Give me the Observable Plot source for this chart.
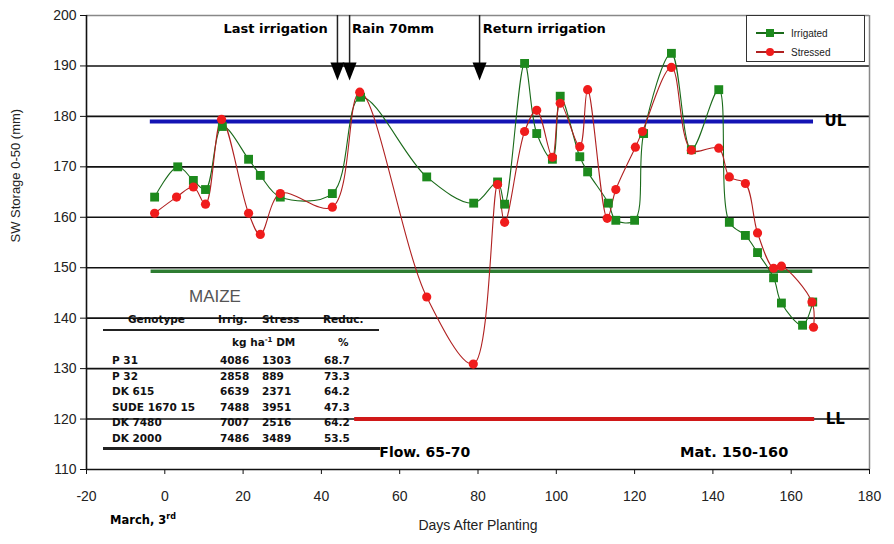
<!DOCTYPE html>
<html>
<head>
<meta charset="utf-8">
<script src="https://cdn.jsdelivr.net/npm/d3@7"></script>
<script src="https://cdn.jsdelivr.net/npm/@observablehq/plot@0.6"></script>
<style>
  body { margin: 0; background: white; }
  #wrap { position: relative; width: 894px; height: 544px; overflow: hidden; font-family: "Liberation Sans", Arial, sans-serif; }
  #wrap svg.plot { position: absolute; left: 0; top: 0; }
  .ov { position: absolute; white-space: nowrap; line-height: 13px; }
  .tb { font-family: "DejaVu Sans", sans-serif; font-weight: bold; font-size: 10.5px; color: #111; }
</style>
</head>
<body>
<div id="wrap"></div>
<script>
// ---------- data ----------
const irrDays = [-2.6, 3.3, 7.3, 10.4, 14.7, 21.4, 24.4, 29.5, 42.8, 50, 66.9, 78.9, 85, 86.8, 91.9, 95, 99, 101, 106, 108, 113.3, 115.2, 120, 122.3, 129.4, 134.5, 141.5, 144.2, 148.3, 151.4, 155.5, 157.5, 162.9, 165.5];
const irrSW   = [164, 170, 167.3, 165.5, 178, 171.5, 168.3, 164, 164.7, 183.8, 168, 162.8, 167, 162.6, 190.5, 176.6, 171.5, 184, 172, 169, 162.8, 159.4, 159.4, 176.6, 192.5, 173.4, 185.3, 159, 156.4, 153, 148, 143, 138.6, 143.2];
const strDays = [-2.6, 3, 7.3, 10.4, 14.5, 21.4, 24.4, 29.5, 42.8, 49.8, 66.9, 78.8, 85, 86.8, 91.9, 95, 99, 101, 106, 108, 113, 115.2, 120.2, 122, 129.4, 134.5, 141.5, 144.2, 148.3, 151.4, 155.5, 157.5, 165.3, 165.7];
const strSW   = [160.8, 164, 166, 162.6, 179.4, 160.8, 156.6, 164.7, 162, 184.8, 144.2, 130.9, 166.5, 159, 177, 181.2, 171.9, 182.6, 174, 185.3, 159.8, 165.5, 173.9, 177, 189.7, 173.3, 173.7, 168, 166.7, 156.9, 149.9, 150.3, 143.2, 138.2];

const xTicks = [-20, 0, 20, 40, 60, 80, 100, 120, 140, 160, 180];
const yTicks = [110, 120, 130, 140, 150, 160, 170, 180, 190, 200];
const gridValues = [120, 130, 140, 150, 160, 170, 180, 190];

const limitNames = ["UL", "", "LL"];
const limitValues = [179, 149.3, 120];
const limitFrom = [-3.7, -3.5, 48.5];
const limitTo = [165.7, 165.5, 166];

const eventDays = [44.1, 47.2, 80.4];
const eventLabels = ["Last irrigation", "Rain 70mm", "Return irrigation"];
const eventLabelDays = [41.6, 47.8, 81.2];

const stageLabels = ["Flow. 65-70", "Mat. 150-160"];
const stageDays = [54.8, 131.6];

const tableTitle = "MAIZE";
const tableHeader = ["Genotype", "Irrig.", "Stress", "Reduc."];
const genotypes = ["P 31", "P 32", "DK 615", "SUDE 1670 15", "DK 7480", "DK 2000"];
const irrigYield = [4086, 2858, 6639, 7488, 7007, 7486];
const stressYield = [1303, 889, 2371, 3951, 2516, 3489];
const reduction = [68.7, 73.3, 64.2, 47.3, 64.2, 53.5];

// ---------- tables for the library ----------
const irr = irrDays.map((d, i) => ({day: d, sw: irrSW[i]}));
const str = strDays.map((d, i) => ({day: d, sw: strSW[i]}));
const limits = limitValues.map((v, i) => ({name: limitNames[i], value: v, from: limitFrom[i], to: limitTo[i]}));
const events = eventDays.map((d, i) => ({day: d, label: eventLabels[i], labelDay: eventLabelDays[i]}));
const stages = stageLabels.map((s, i) => ({label: s, day: stageDays[i]}));

const downTriangle = {
  draw(ctx) { ctx.moveTo(-7, -9); ctx.lineTo(7, -9); ctx.lineTo(0, 9); ctx.closePath(); }
};

const font = "Liberation Sans, Arial, sans-serif";
const heavy = "DejaVu Sans, sans-serif";

const chart = Plot.plot({
  width: 894,
  height: 544,
  marginLeft: 86,
  marginRight: 25,
  marginTop: 15,
  marginBottom: 75,
  x: {domain: [-20, 180]},
  y: {domain: [110, 200]},
  style: {fontFamily: font, fontSize: "14px", color: "#222", background: "white", overflow: "visible"},
  marks: [
    Plot.ruleY(gridValues, {stroke: "#111", strokeWidth: 1.6}),
    Plot.ruleY([200], {stroke: "#888", strokeWidth: 1.5}),
    Plot.ruleX([180], {stroke: "#888", strokeWidth: 1.5}),
    Plot.ruleY([110], {stroke: "#111", strokeWidth: 1.6}),
    Plot.ruleX([-20], {stroke: "#111", strokeWidth: 1.6}),
    Plot.axisY({ticks: yTicks, tickSize: 6, tickPadding: 4, fontSize: 14, label: null, tickFormat: d => String(d), stroke: "#111"}),
    Plot.axisX({ticks: xTicks, tickSize: 5, tickPadding: 17, fontSize: 14, label: null, tickFormat: d => String(d), stroke: "#111"}),
    // limit lines
    Plot.ruleY(limits.slice(0, 1), {y: "value", x1: "from", x2: "to", stroke: "#1414b4", strokeWidth: 4}),
    Plot.ruleY(limits.slice(1, 2), {y: "value", x1: "from", x2: "to", stroke: "#2e7d32", strokeWidth: 3.5}),
    Plot.ruleY(limits.slice(2, 3), {y: "value", x1: "from", x2: "to", stroke: "#d01818", strokeWidth: 4}),
    Plot.text(limits.filter(d => d.name), {x: d => d.to, y: "value", text: "name", dx: 11, textAnchor: "start", fontFamily: heavy, fontWeight: "bold", fontSize: 15, fill: "#000"}),
    // event arrows
    Plot.ruleX(events, {x: "day", y1: 200, y2: 190.2, stroke: "#222", strokeWidth: 1.5}),
    Plot.dot(events, {x: "day", y: 188.9, symbol: downTriangle, fill: "#000", stroke: "none"}),
    Plot.text(events.slice(0, 1), {x: "labelDay", y: 197.3, text: "label", textAnchor: "end", fontFamily: heavy, fontWeight: "bold", fontSize: 13, fill: "#000"}),
    Plot.text(events.slice(1), {x: "labelDay", y: 197.3, text: "label", textAnchor: "start", fontFamily: heavy, fontWeight: "bold", fontSize: 13, fill: "#000"}),
    // stage labels
    Plot.text(stages.slice(0, 1), {x: "day", y: 113.3, text: "label", textAnchor: "start", fontFamily: heavy, fontWeight: "bold", fontSize: 14, fill: "#000"}),
    Plot.text(stages.slice(1), {x: "day", y: 113.3, text: "label", textAnchor: "start", fontFamily: heavy, fontWeight: "bold", fontSize: 14.5, fill: "#000"}),
    // series
    Plot.line(irr, {x: "day", y: "sw", curve: "catmull-rom", stroke: "#1a6a1a", strokeWidth: 1.1}),
    Plot.line(str, {x: "day", y: "sw", curve: "catmull-rom", stroke: "#b02020", strokeWidth: 1.1}),
    Plot.dot(irr, {x: "day", y: "sw", symbol: "square", r: 5, fill: "#1d8a1d", stroke: "none"}),
    Plot.dot(str, {x: "day", y: "sw", symbol: "circle", r: 4.6, fill: "#f01c1c", stroke: "none"}),
    // axis titles
    Plot.text(["SW Storage 0-50 (mm)"], {frameAnchor: "left", dx: -71, rotate: -90, fontSize: 13, fill: "#222"}),
    Plot.text(["Days After Planting"], {frameAnchor: "bottom", dy: 60, fontSize: 14, fill: "#222"})
  ]
});
chart.classList.add("plot");
const wrap = document.getElementById("wrap");
wrap.appendChild(chart);

// ---------- overlays: March 3rd, legend, table ----------
function add(html, left, top, cls, style) {
  const el = document.createElement("div");
  el.className = "ov " + (cls || "");
  el.style.left = left + "px";
  el.style.top = top + "px";
  if (style) el.style.cssText += style;
  el.innerHTML = html;
  wrap.appendChild(el);
  return el;
}
add("March, 3<sup style='font-size:8px'>rd</sup>", 110, 510, "", "font-family:'DejaVu Sans',sans-serif;font-weight:bold;font-size:11.5px;color:#000;");

// legend
const leg = add("", 746, 15, "", "width:119px;height:47px;border:1.5px solid #333;background:white;box-sizing:border-box;");
leg.innerHTML = `
<svg width="116" height="44" style="position:absolute;left:0;top:0">
  <line x1="9" x2="37" y1="17" y2="17" stroke="#1a6a1a" stroke-width="2"/>
  <rect x="19" y="13" width="8" height="8" fill="#1d8a1d"/>
  <line x1="9" x2="37" y1="36" y2="36" stroke="#b02020" stroke-width="2"/>
  <circle cx="23" cy="36" r="4" fill="#f01c1c"/>
  <text x="44" y="21" font-size="10" font-family="${font}" fill="#222">Irrigated</text>
  <text x="44" y="40" font-size="10" font-family="${font}" fill="#222">Stressed</text>
</svg>`;

// table
add(tableTitle, 189, 287, "", "font-size:17px;line-height:19px;color:#555;");
const colX = [128, 218, 262, 323];
tableHeader.forEach((h, i) => add(h, colX[i], 313, "tb"));
add("", 103, 329, "", "width:276px;border-top:2px solid #222;");
add("kg ha<sup style='font-size:7px;line-height:0'>-1</sup> DM", 232, 336, "tb");
add("%", 338, 336, "tb");
const rowTop = [354, 370, 385, 401, 416, 432];
genotypes.forEach((g, i) => {
  add(g, 112, rowTop[i], "tb");
  add(String(irrigYield[i]), 220, rowTop[i], "tb");
  add(String(stressYield[i]), 262, rowTop[i], "tb");
  add(reduction[i].toFixed(1), 324, rowTop[i], "tb");
});
add("", 103, 447, "", "width:277px;border-top:3px solid #222;");
</script>
</body>
</html>
